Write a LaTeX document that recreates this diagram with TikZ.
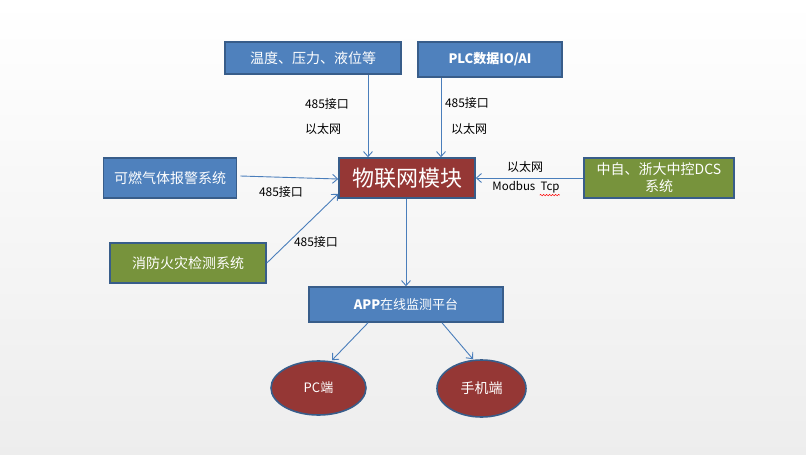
\documentclass[tikz,border=0pt]{standalone}
\usepackage{fontspec}
\setmainfont{Noto Sans CJK SC}
\usetikzlibrary{arrows.meta,shapes.geometric,decorations.pathmorphing}
\definecolor{bfill}{HTML}{4F81BD}
\definecolor{bline}{HTML}{385D8A}
\definecolor{rfill}{HTML}{953735}
\definecolor{gfill}{HTML}{77933C}
\definecolor{arrc}{HTML}{4A7EBB}
\tikzset{
  box/.style={draw=bline, line width=1.6pt, text=white, inner sep=0pt, font=\fontsize{14}{16}\selectfont},
  bluebox/.style={box, fill=bfill},
  redbox/.style={box, fill=rfill},
  greenbox/.style={box, fill=gfill},
  oval/.style={ellipse, draw=bline, line width=1.6pt, fill=rfill, text=white, inner sep=0pt, font=\fontsize{13}{15}\selectfont},
  arr/.style={draw=arrc, line width=0.9pt, -{Straight Barb[length=5pt,width=9pt]}},
  lbl/.style={text=black, inner sep=0pt, font=\fontsize{12}{14}\selectfont}
}
\begin{document}
\begin{tikzpicture}[x=1pt,y=-1pt]
\shade[top color=white, bottom color=black!7] (0,0) rectangle (806,455);
\useasboundingbox (0,0) rectangle (806,455);

\node[bluebox, minimum width=176pt, minimum height=32pt] (wendu) at (313,58) {温度、压力、液位等};
\node[bluebox, minimum width=144pt, minimum height=35pt, font=\fontsize{13}{15}\selectfont\bfseries] (plc) at (490,59.5) {PLC数据IO/AI};
\node[bluebox, minimum width=133pt, minimum height=40pt] (kr) at (170,178) {可燃气体报警系统};
\node[redbox, minimum width=136pt, minimum height=40pt, font=\fontsize{22}{24}\selectfont] (iot) at (407,178) {物联网模块};
\node[greenbox, minimum width=150pt, minimum height=40pt, align=center, font=\fontsize{14}{17}\selectfont] (dcs) at (659,178) {中自、浙大中控DCS\\系统};
\node[greenbox, minimum width=156pt, minimum height=40pt] (xf) at (188,263) {消防火灾检测系统};
\node[bluebox, minimum width=194pt, minimum height=35pt, font=\fontsize{13}{15}\selectfont] (app) at (406,304.5) {\textbf{APP}在线监测平台};
\node[oval, minimum width=95pt, minimum height=54pt] (pc) at (318.5,388) {PC端};
\node[oval, minimum width=89pt, minimum height=57pt, font=\fontsize{14}{16}\selectfont] (phone) at (481.5,388.5) {手机端};

\draw[arr] (wendu.south -| 368,0) -- (iot.north -| 368,0);
\draw[arr] (plc.south -| 441,0) -- (iot.north -| 441,0);
\draw[arr] ([xshift=3pt,yshift=2pt]kr.east) -- ([yshift=-1pt]iot.west);
\draw[arr] (xf.east) -- ([yshift=5pt]iot.south west);
\draw[arr] (dcs.west) -- (iot.east);
\draw[arr] (iot.south -| 406,0) -- (app.north -| 406,0);
\draw[arr] (app.south -| 368,0) -- (pc.north -| 332,0);
\draw[arr] (app.south -| 442,0) -- (phone.north -| 473,0);

\node[lbl] (l1) at (327,104) {485接口};
\node[lbl] (l2) at (323,129) {以太网};
\node[lbl] (l3) at (467,103) {485接口};
\node[lbl] (l4) at (469,129) {以太网};
\node[lbl] (l5) at (281,192) {485接口};
\node[lbl] (l6) at (316,242) {485接口};
\node[lbl] (l7) at (525,167) {以太网};
\node[lbl, font=\fontsize{11.5}{14}\selectfont] (l8) at (526,187) {Modbus\ \ Tcp};
\draw[red, line width=0.5pt, decorate, decoration={snake, amplitude=0.7pt, segment length=3pt}] ([xshift=-20pt,yshift=-2pt]l8.south east) -- ([xshift=0pt,yshift=-2pt]l8.south east);
\end{tikzpicture}
\end{document}
